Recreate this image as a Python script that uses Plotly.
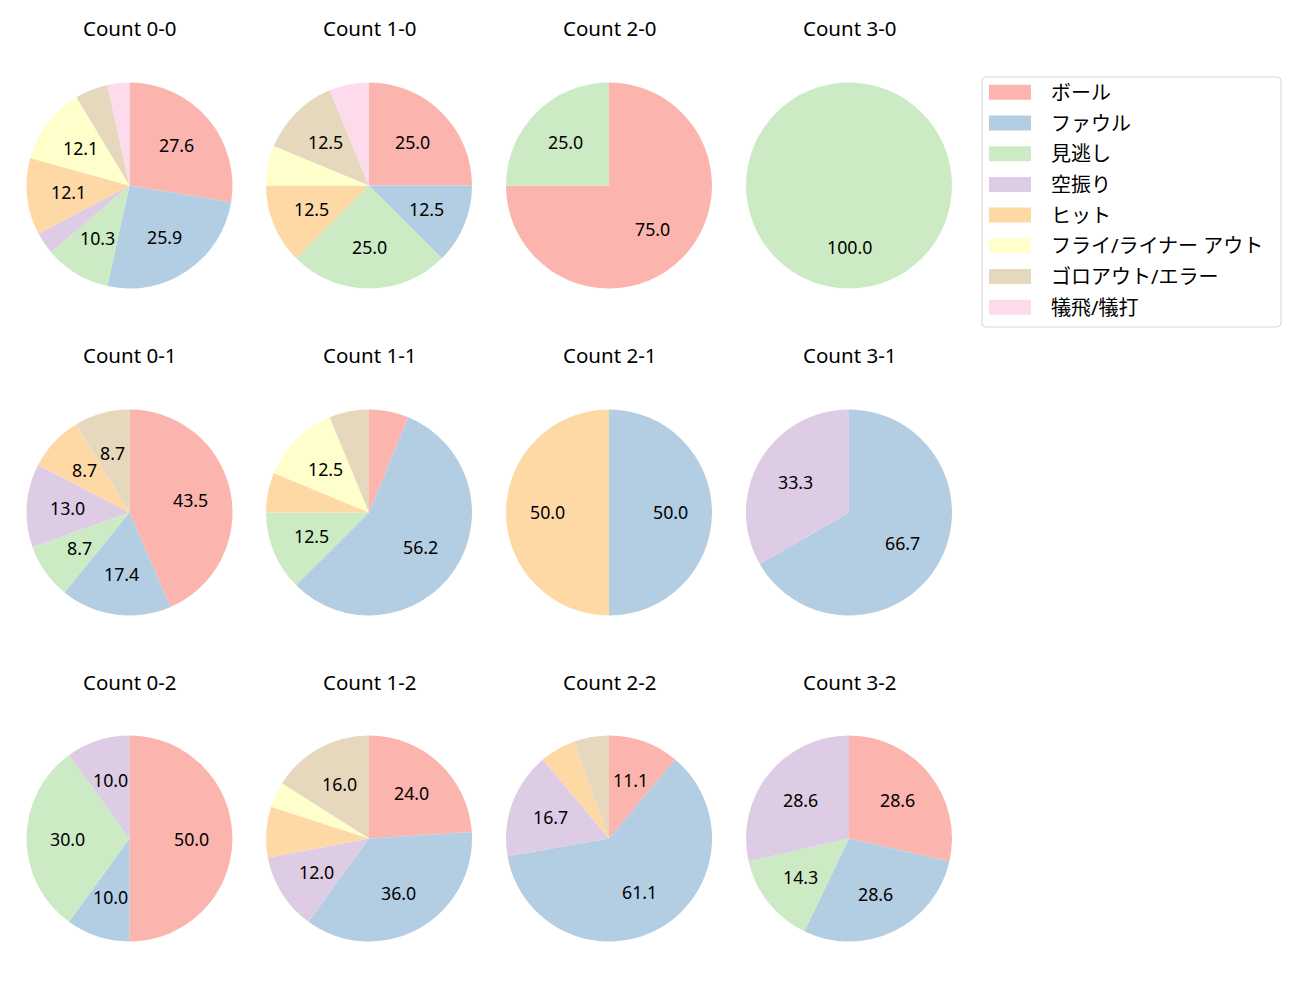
import math
import plotly.graph_objects as go

# categories / colours
categories = ['ボール', 'ファウル', '見逃し', '空振り', 'ヒット',
              'フライ/ライナー アウト', 'ゴロアウト/エラー', '犠飛/犠打']
colors = ['#fbb4ae', '#b3cde3', '#ccebc5', '#decbe4', '#fed9a6',
          '#ffffcc', '#e5d8bd', '#fddaec']

# pitch counts (balls-strikes) -> number of pitches per result
count_labels = ['0-0', '1-0', '2-0', '3-0',
                '0-1', '1-1', '2-1', '3-1',
                '0-2', '1-2', '2-2', '3-2']
c_0_0 = [16, 15, 6, 2, 7, 7, 3, 2]
c_1_0 = [4, 2, 4, 0, 2, 1, 2, 1]
c_2_0 = [3, 0, 1, 0, 0, 0, 0, 0]
c_3_0 = [0, 0, 1, 0, 0, 0, 0, 0]
c_0_1 = [10, 4, 2, 3, 2, 0, 2, 0]
c_1_1 = [1, 9, 2, 0, 1, 2, 1, 0]
c_2_1 = [0, 1, 0, 0, 1, 0, 0, 0]
c_3_1 = [0, 2, 0, 1, 0, 0, 0, 0]
c_0_2 = [5, 1, 3, 1, 0, 0, 0, 0]
c_1_2 = [6, 9, 0, 3, 2, 1, 4, 0]
c_2_2 = [2, 11, 0, 3, 1, 0, 1, 0]
c_3_2 = [2, 2, 1, 2, 0, 0, 0, 0]
all_counts = [c_0_0, c_1_0, c_2_0, c_3_0, c_0_1, c_1_1,
              c_2_1, c_3_1, c_0_2, c_1_2, c_2_2, c_3_2]

W, H = 1300, 1000
OFF = 8  # page margin the browser adds around the plot
FONT = 'Noto Sans, Noto Sans CJK JP'
col_x = [129.5, 369, 609, 849]
row_y = [185.5, 512.5, 838.5]
R = 103


def fx(px):
    return (px - OFF) / W


def fy(py):
    return 1 - (py - OFF) / H


fig = go.Figure()
annotations = []

for i, (lab, vals) in enumerate(zip(count_labels, all_counts)):
    cx = col_x[i % 4]
    cy = row_y[i // 4]
    fig.add_trace(go.Pie(
        labels=categories, values=vals, sort=False, direction='clockwise',
        rotation=0, marker=dict(colors=colors, line=dict(width=0)),
        textinfo='none', hoverinfo='label+percent', showlegend=False,
        domain=dict(x=[fx(cx - R), fx(cx + R)], y=[fy(cy + R), fy(cy - R)]),
    ))
    annotations.append(dict(
        text=f'Count {lab}', x=fx(cx), y=fy(cy - 157),
        xref='paper', yref='paper', showarrow=False,
        xanchor='center', yanchor='middle',
        font=dict(size=20.5, color='black', family=FONT)))
    # percentage labels, like autopct at 0.6 radius
    total = sum(vals)
    cum = 0
    for v in vals:
        if v == 0:
            continue
        pct = 100 * v / total
        mid = 90 - 360 * (cum + v / 2) / total
        cum += v
        if pct < 8.5:
            continue
        px_ = cx + 0.6 * R * math.cos(math.radians(mid))
        py_ = cy - 0.6 * R * math.sin(math.radians(mid))
        annotations.append(dict(
            text=f'{pct:.1f}', x=fx(px_), y=fy(py_),
            xref='paper', yref='paper', showarrow=False,
            xanchor='center', yanchor='middle',
            font=dict(size=17.8, color='black', family=FONT)))

# legend box drawn by hand (matplotlib look), in paper pixels
shapes = []
lx0, lx1, ly0, ly1, rr = 982 - OFF, 1281 - OFF, 77 - OFF, 327 - OFF, 4
path = (f'M {lx0 + rr},{ly0} L {lx1 - rr},{ly0} Q {lx1},{ly0} {lx1},{ly0 + rr} '
        f'L {lx1},{ly1 - rr} Q {lx1},{ly1} {lx1 - rr},{ly1} '
        f'L {lx0 + rr},{ly1} Q {lx0},{ly1} {lx0},{ly1 - rr} '
        f'L {lx0},{ly0 + rr} Q {lx0},{ly0} {lx0 + rr},{ly0} Z')
shapes.append(dict(type='path', path=path, xref='x', yref='y',
                   line=dict(color='#d6d6d6', width=1), fillcolor='white'))
for k, (name, colr) in enumerate(zip(categories, colors)):
    yc = 92.3 + k * 30.7 - OFF
    shapes.append(dict(type='rect', xref='x', yref='y',
                       x0=989 - OFF, x1=1031 - OFF, y0=yc - 7.5, y1=yc + 7.5,
                       line=dict(width=0), fillcolor=colr))
    annotations.append(dict(
        text=name, x=1049 - OFF, y=yc, xref='x', yref='y', showarrow=False,
        xanchor='left', yanchor='middle',
        font=dict(size=20, color='black', family=FONT)))

fig.update_layout(
    width=W, height=H, margin=dict(l=0, r=0, t=0, b=0),
    paper_bgcolor='white', plot_bgcolor='white',
    xaxis=dict(range=[0, W], visible=False, fixedrange=True),
    yaxis=dict(range=[H, 0], visible=False, fixedrange=True),
    shapes=shapes, annotations=annotations,
    font=dict(family=FONT),
)

fig.write_html('out.html')
